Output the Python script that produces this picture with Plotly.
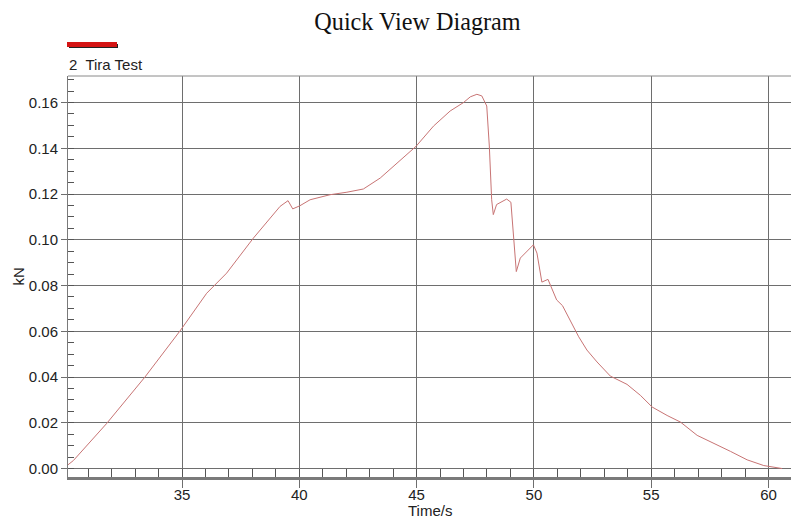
import plotly.graph_objects as go

time_s = [30.10, 30.37, 31.78, 33.42, 34.94, 36.05, 36.90, 38.04, 39.18, 39.44, 39.52, 39.72,
          40.03, 40.46, 41.31, 42.03, 42.73, 43.45, 44.16, 44.98, 45.72, 46.43, 47.00, 47.29,
          47.57, 47.78, 47.99, 48.10, 48.20, 48.27, 48.41, 48.84, 49.02, 49.10, 49.25, 49.42,
          49.98, 50.13, 50.34, 50.60, 50.77, 50.97, 51.22, 51.76, 51.91, 52.26, 52.69, 53.26,
          53.97, 54.54, 55.04, 55.68, 56.25, 56.96, 57.67, 58.38, 59.09, 59.80, 60.58]
force_kn = [0.0013, 0.0035, 0.0196, 0.0400, 0.0605, 0.0766, 0.0854, 0.1007, 0.1146, 0.1168, 0.1171, 0.1135,
            0.1149, 0.1175, 0.1197, 0.1208, 0.1222, 0.1270, 0.1336, 0.1409, 0.1497, 0.1563, 0.1600, 0.1625,
            0.1636, 0.1629, 0.1585, 0.1410, 0.1175, 0.1110, 0.1154, 0.1178, 0.1164, 0.1044, 0.0861, 0.0920,
            0.0978, 0.0942, 0.0815, 0.0827, 0.0788, 0.0737, 0.0712, 0.0605, 0.0576, 0.0518, 0.0466, 0.0404,
            0.0368, 0.0320, 0.0269, 0.0232, 0.0203, 0.0145, 0.0111, 0.0075, 0.0038, 0.0013, 0.0000]

x_ticks = [35, 40, 45, 50, 55, 60]
y_ticks = [0.00, 0.02, 0.04, 0.06, 0.08, 0.10, 0.12, 0.14, 0.16]
series_name = "2  Tira Test"

W, H = 791, 519
L, R, T, B = 68, 0, 76, 42
PW, PH = W - L - R, H - T - B

fig = go.Figure()
fig.add_trace(go.Scatter(x=time_s, y=force_kn, mode="lines", name=series_name,
                         line=dict(color="#c87474", width=1), showlegend=False))

font = dict(family="Liberation Sans, Arial, sans-serif", size=15, color="#222")
grid_col = "#6e6e6e"

fig.update_layout(
    width=W, height=H,
    margin=dict(l=L, r=R, t=T, b=B, pad=0, autoexpand=False),
    paper_bgcolor="white", plot_bgcolor="white",
    font=font,
    title=dict(text="Quick View Diagram", x=417.5 / W, xref="container", xanchor="center",
               y=1 - 22 / H, yref="container", yanchor="middle",
               font=dict(family="Liberation Serif, Times New Roman, serif", size=24.2, color="#111")),
    xaxis=dict(range=[30.14, 60.96], tickvals=x_ticks, ticktext=[str(v) for v in x_ticks],
               automargin=False, ticklabelstandoff=-6,
               showgrid=True, gridcolor=grid_col, gridwidth=1, zeroline=False,
               showline=True, linecolor="#7a7a7a", linewidth=3,
               ticks="outside", ticklen=8, tickcolor=grid_col, tickwidth=1,
               minor=dict(dtick=1, tick0=30, ticks="inside", ticklen=8, tickcolor="#555",
                          tickwidth=1, showgrid=False),
               tickfont=font),
    yaxis=dict(range=[-0.0037, 0.1716], tickvals=y_ticks, ticktext=[f"{v:.2f}" for v in y_ticks],
               automargin=False,
               showgrid=True, gridcolor=grid_col, gridwidth=1, zeroline=False,
               showline=True, linecolor="#7a7a7a", linewidth=1,
               ticks="outside", ticklen=6, tickcolor=grid_col, tickwidth=1,
               minor=dict(dtick=0.005, tick0=0, ticks="inside", ticklen=6, tickcolor="#555",
                          tickwidth=1, showgrid=False),
               tickfont=font),
    shapes=[
        dict(type="line", xref="paper", yref="paper", x0=0, x1=1, y0=1, y1=1,
             line=dict(color="#8a8a8a", width=1)),
        dict(type="rect", xref="paper", yref="paper", x0=1 / PW, x1=50 / PW,
             y0=1 + 28 / PH, y1=1 + 32 / PH,
             line=dict(width=0), fillcolor="#222"),
        dict(type="rect", xref="paper", yref="paper", x0=-1 / PW, x1=49 / PW,
             y0=1 + 29 / PH, y1=1 + 34 / PH,
             line=dict(width=0), fillcolor="#d41414"),
    ],
    annotations=[
        dict(text=series_name, xref="paper", yref="paper", x=-1 / PW, y=1 + 12 / PH,
             xanchor="left", yanchor="middle", showarrow=False, font=font),
        dict(text="Time/s", xref="paper", yref="paper", x=0.5, y=-33 / PH,
             xanchor="center", yanchor="middle", showarrow=False, font=font),
        dict(text="kN", xref="paper", yref="paper", x=-50 / PW, y=0.5, textangle=-90,
             xanchor="center", yanchor="middle", showarrow=False, font=font),
    ],
)

fig.write_html("out.html", config={"displayModeBar": False},
               post_script="document.body.style.margin='0';document.body.style.overflow='hidden';")
